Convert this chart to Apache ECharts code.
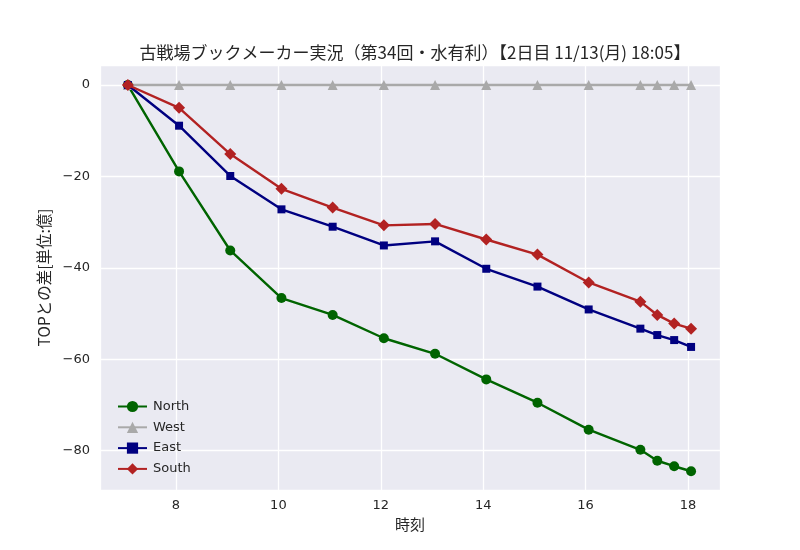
<!DOCTYPE html>
<html><head><meta charset="utf-8">
<script src="https://cdn.jsdelivr.net/npm/echarts@6/dist/echarts.min.js"></script>
<style>html,body{margin:0;padding:0;background:#fff}#c{width:800px;height:550px}</style>
</head><body><div id="c"></div>
<script>
const titleText = '古戦場ブックメーカー実況（第34回・水有利）【2日目 11/13(月) 18:05】';
const xName = '時刻';
const yName = 'TOPとの差[単位:億]';
const times = [7.06, 8.06, 9.06, 10.06, 11.06, 12.06, 13.06, 14.06, 15.06, 16.06, 17.07, 17.40, 17.73, 18.06];
const seriesNames = ['North', 'West', 'East', 'South'];
const north = [0, -18.9, -36.2, -46.6, -50.3, -55.4, -58.8, -64.4, -69.5, -75.4, -79.8, -82.2, -83.4, -84.5];
const west  = [0, 0, 0, 0, 0, 0, 0, 0, 0, 0, 0, 0, 0, 0];
const east  = [0, -8.9, -19.9, -27.2, -31.0, -35.1, -34.2, -40.2, -44.1, -49.1, -53.3, -54.7, -55.8, -57.3];
const south = [0, -5.0, -15.1, -22.7, -26.8, -30.7, -30.4, -33.8, -37.1, -43.2, -47.4, -50.3, -52.2, -53.3];
const colors = ['#006400', '#A9A9A9', '#000080', '#B22222'];
const symbols = ['circle', 'triangle', 'rect', 'diamond'];
const symbolSizes = [10, 10, 8, 12];
const allData = [north, west, east, south];

const chart = echarts.init(document.getElementById('c'), null, {renderer: 'canvas'});
const fmt = v => {
  if (Math.abs(v - Math.round(v)) > 1e-6) return '';
  return v < 0 ? '\u2212' + Math.abs(v) : String(v);
};
chart.setOption({
  animation: false,
  backgroundColor: '#ffffff',
  title: {
    text: titleText, left: 410, top: 39, textAlign: 'center',
    textStyle: {fontFamily: 'Noto Sans CJK JP', fontSize: 17, fontWeight: 'normal', color: '#262626'}
  },
  legend: {
    orient: 'vertical', left: 112, top: 395,
    itemWidth: 29, itemHeight: 14, itemGap: 7.8,
    data: seriesNames,
    textStyle: {fontFamily: 'DejaVu Sans', fontSize: 13, color: '#262626', padding: [0, 0, 0, 1]}
  },
  grid: {left: 100, right: 80, top: 65, bottom: 60, show: true, backgroundColor: '#EAEAF2', borderWidth: 0},
  xAxis: {
    type: 'value', min: 6.516, max: 18.625, splitNumber: 6,
    name: xName, nameLocation: 'middle', nameGap: 27,
    nameTextStyle: {fontFamily: 'Noto Sans CJK JP', fontSize: 15, color: '#262626'},
    axisLine: {show: false}, axisTick: {show: false},
    axisLabel: {formatter: fmt, fontFamily: 'DejaVu Sans', fontSize: 13, color: '#262626', margin: 9, showMinLabel: false, showMaxLabel: false},
    splitLine: {show: true, lineStyle: {color: '#ffffff', width: 1.3}}
  },
  yAxis: {
    type: 'value', min: -88.6, max: 4.38,
    name: yName, nameLocation: 'middle', nameGap: 43, nameRotate: 90,
    nameTextStyle: {fontFamily: 'Noto Sans CJK JP', fontSize: 15.5, color: '#262626'},
    axisLine: {show: false}, axisTick: {show: false},
    axisLabel: {formatter: fmt, fontFamily: 'DejaVu Sans', fontSize: 13, color: '#262626', margin: 10, showMinLabel: false, showMaxLabel: false},
    splitLine: {show: true, lineStyle: {color: '#ffffff', width: 1.3}}
  },
  series: seriesNames.map((n, i) => ({
    name: n, type: 'line',
    data: times.map((t, j) => [t, allData[i][j]]),
    symbol: symbols[i], symbolSize: symbolSizes[i], showAllSymbol: true,
    lineStyle: {color: colors[i], width: 2.4},
    itemStyle: {color: colors[i], borderWidth: 0},
    emphasis: {disabled: true},
    z: 2 + i
  }))
});
</script>
</body></html>
